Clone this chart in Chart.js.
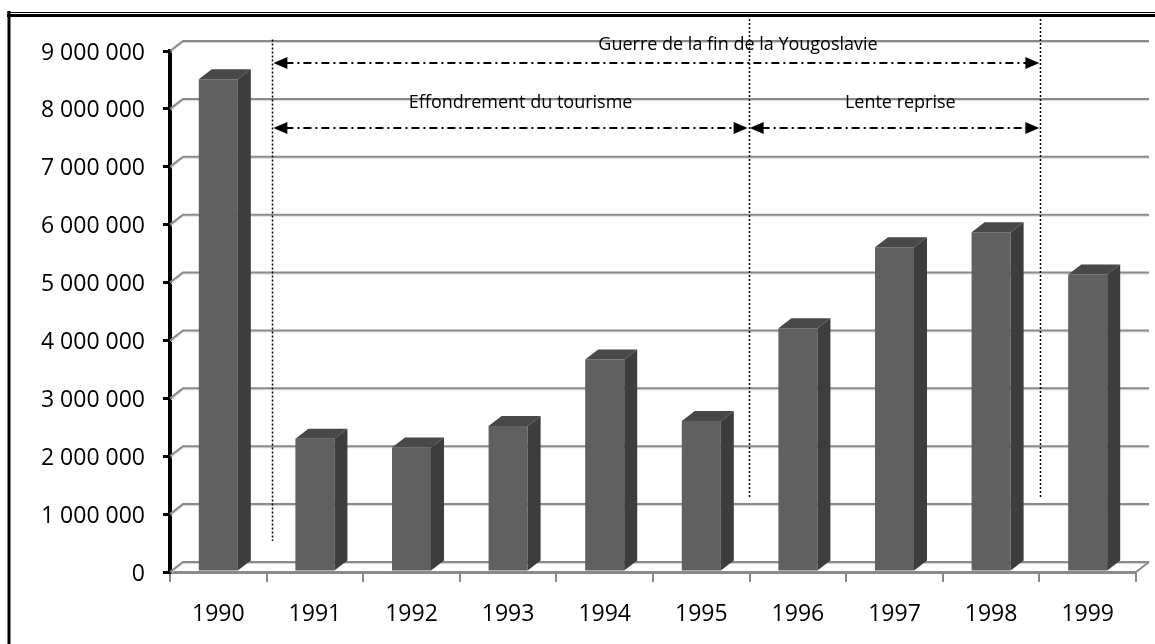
<!DOCTYPE html>
<html>
<head>
<meta charset="utf-8">
<script src="https://cdn.jsdelivr.net/npm/chart.js@4.4.1/dist/chart.umd.min.js"></script>
<style>
  html, body { margin: 0; padding: 0; background: #fff; }
  canvas { display: block; }
</style>
</head>
<body>
<canvas id="chart" width="1155" height="644"></canvas>
<script>
// tourist arrivals per year
const years = ['1990', '1991', '1992', '1993', '1994', '1995', '1996', '1997', '1998', '1999'];
const visitors = [8510000, 2300000, 2150000, 2520000, 3670000, 2610000, 4210000, 5610000, 5870000, 5140000];

// period annotations (x in category units, y in axis values)
const periodLabels = ['Guerre de la fin de la Yougoslavie', 'Effondrement du tourisme', 'Lente reprise'];
const periodStart = [0.56, 0.56, 5.49];
const periodEnd = [8.51, 5.49, 8.51];
const periodLevel = [8790000, 7670000, 7670000];
const periodLabelX = [5.38, 3.13, 7.06];
const periodLabelLevel = [9100000, 8110000, 8110000];

// dotted separators
const separatorX = [0.56, 5.49, 8.51];
const separatorTop = [9200000, 9620000, 9620000];
const separatorBottom = [535000, 1280000, 1280000];

const FONT = '"Open Sans", "DejaVu Sans", sans-serif';
const DX = 13, DY = 10; // 3d depth offset

function fmt(v) {
    return String(v).replace(/\B(?=(\d{3})+(?!\d))/g, ' ');
}

const frame = {
    id: 'frame',
    beforeDraw(chart) {
        const ctx = chart.ctx;
        ctx.save();
        ctx.fillStyle = '#fff';
        ctx.fillRect(0, 0, chart.width, chart.height);
        ctx.strokeStyle = '#000';
        ctx.lineWidth = 1;
        ctx.beginPath();
        ctx.moveTo(7, 12.5);
        ctx.lineTo(chart.width, 12.5);
        ctx.stroke();
        ctx.lineWidth = 3;
        ctx.beginPath();
        ctx.moveTo(7, 15.5);
        ctx.lineTo(chart.width, 15.5);
        ctx.moveTo(9, 11);
        ctx.lineTo(9, chart.height);
        ctx.stroke();
        ctx.restore();
    }
};

const wall3d = {
    id: 'wall3d',
    beforeDatasetsDraw(chart) {
        const { ctx, chartArea: a, scales: { y } } = chart;
        const right = a.right + DX;
        ctx.save();
        y.ticks.forEach(t => {
            const py = y.getPixelForValue(t.value);
            ctx.strokeStyle = '#d6d6d6';
            ctx.lineWidth = 1;
            ctx.beginPath();
            ctx.moveTo(a.left + 1, py + 1.5);
            ctx.lineTo(a.left + DX, py - DY + 1.5);
            ctx.lineTo(right, py - DY + 1.5);
            ctx.stroke();
            ctx.strokeStyle = '#8a8a8a';
            ctx.lineWidth = 2;
            ctx.beginPath();
            ctx.moveTo(a.left, py);
            ctx.lineTo(a.left + DX, py - DY);
            ctx.lineTo(right, py - DY);
            ctx.stroke();
        });
        // floor right edge
        ctx.beginPath();
        ctx.moveTo(a.right, a.bottom);
        ctx.lineTo(right, a.bottom - DY);
        ctx.stroke();
        ctx.restore();
    },
    afterDatasetsDraw(chart) {
        const { ctx, scales: { x, y } } = chart;
        ctx.save();
        chart.getDatasetMeta(0).data.forEach(bar => {
            const p = bar.getProps(['x', 'y', 'width', 'base'], true);
            const x0 = p.x - p.width / 2, x1 = p.x + p.width / 2;
            ctx.fillStyle = '#484848';
            ctx.beginPath();
            ctx.moveTo(x0, p.y);
            ctx.lineTo(x0 + DX, p.y - DY);
            ctx.lineTo(x1 + DX, p.y - DY);
            ctx.lineTo(x1, p.y);
            ctx.closePath();
            ctx.fill();
            ctx.fillStyle = '#3d3d3d';
            ctx.beginPath();
            ctx.moveTo(x1, p.y);
            ctx.lineTo(x1 + DX, p.y - DY);
            ctx.lineTo(x1 + DX, p.base - DY);
            ctx.lineTo(x1, p.base);
            ctx.closePath();
            ctx.fill();
        });

        // dotted separators
        ctx.strokeStyle = '#000';
        ctx.lineWidth = 1.5;
        ctx.setLineDash([2, 2]);
        separatorX.forEach((sx, i) => {
            const px = Math.round(x.getPixelForValue(sx)) + 0.5;
            ctx.beginPath();
            ctx.moveTo(px, y.getPixelForValue(separatorTop[i]));
            ctx.lineTo(px, y.getPixelForValue(separatorBottom[i]));
            ctx.stroke();
        });

        // arrows
        periodLabels.forEach((label, i) => {
            const xa = x.getPixelForValue(periodStart[i]) + 1;
            const xb = x.getPixelForValue(periodEnd[i]) - 1;
            const py = Math.round(y.getPixelForValue(periodLevel[i]));
            ctx.lineWidth = 2;
            ctx.setLineDash([8, 4, 2, 4]);
            ctx.beginPath();
            ctx.moveTo(xa + 12, py);
            ctx.lineTo(xb - 12, py);
            ctx.stroke();
            ctx.setLineDash([]);
            ctx.fillStyle = '#000';
            ctx.beginPath();
            ctx.moveTo(xa, py);
            ctx.lineTo(xa + 14, py - 6);
            ctx.lineTo(xa + 14, py + 6);
            ctx.closePath();
            ctx.fill();
            ctx.beginPath();
            ctx.moveTo(xb, py);
            ctx.lineTo(xb - 14, py - 6);
            ctx.lineTo(xb - 14, py + 6);
            ctx.closePath();
            ctx.fill();

            ctx.font = '18px ' + FONT;
            ctx.textAlign = 'center';
            ctx.textBaseline = 'middle';
            ctx.fillText(label, x.getPixelForValue(periodLabelX[i]), y.getPixelForValue(periodLabelLevel[i]));
        });
        ctx.restore();
    }
};

new Chart(document.getElementById('chart'), {
    type: 'bar',
    data: {
        labels: years,
        datasets: [{
            data: visitors,
            backgroundColor: '#606060',
            borderWidth: 0,
            categoryPercentage: 1,
            barPercentage: 0.404,
        }]
    },
    options: {
        responsive: false,
        animation: false,
        events: [],
        layout: { padding: { top: 51, right: 19, left: 0, bottom: 0 } },
        plugins: { legend: { display: false }, tooltip: { enabled: false } },
        scales: {
            x: {
                grid: { offset: true, drawOnChartArea: false, color: '#8a8a8a', tickLength: 10, lineWidth: 2 },
                border: { color: '#8a8a8a', width: 3 },
                ticks: { color: '#000', font: { family: FONT, size: 23 }, padding: 19 },
                afterFit: s => { s.height = 72; }
            },
            y: {
                min: 0,
                max: 9000000,
                grid: { drawOnChartArea: false, color: '#000', tickLength: 7, lineWidth: 3 },
                border: { color: '#000', width: 4 },
                ticks: { stepSize: 1000000, color: '#000', font: { family: FONT, size: 23 }, padding: 18, labelOffset: 2, callback: v => fmt(v) },
                afterFit: s => { s.width = 170; }
            }
        }
    },
    plugins: [frame, wall3d]
});
</script>
</body>
</html>
